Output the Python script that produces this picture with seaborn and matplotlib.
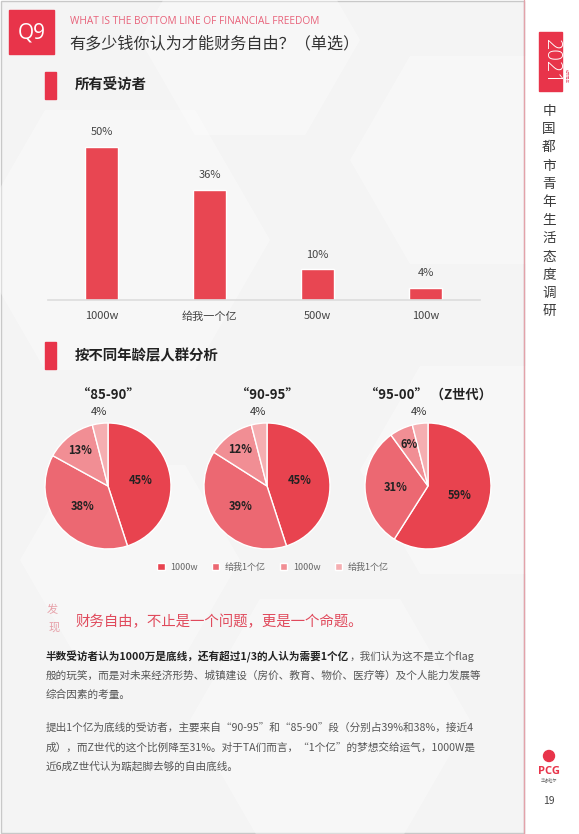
import matplotlib.pyplot as plt
import seaborn as sns
import pandas as pd
import numpy as np
from matplotlib.patches import Rectangle, RegularPolygon, Circle

# data
bar_labels = ['1000w', '给我一个亿', '500w', '100w']
bar_values = [50, 36, 10, 4]

pie_titles = ['“85-90”', '“90-95”', '“95-00” （Z世代）']
pie_85_90 = [45, 38, 13, 4]
pie_90_95 = [45, 39, 12, 4]
pie_95_00 = [59, 31, 6, 4]
legend_labels = ['1000w', '给我1个亿', '1000w', '给我1个亿']

sns.set_theme(style='white')
plt.rcParams['font.family'] = ['Noto Sans CJK SC', 'DejaVu Sans']

W, H = 579, 834
RED = '#E8344A'
BAR = '#E84652'
PIE_COLORS = ['#E8434F', '#EC6872', '#F18E94', '#F5AEB1']


def fig_rect(x0, y0, x1, y1):
    return [x0 / W, 1 - y1 / H, (x1 - x0) / W, (y1 - y0) / H]


fig = plt.figure(figsize=(W / 100, H / 100), dpi=100)
fig.patch.set_facecolor('white')

# page background, pixel coordinates
bg = fig.add_axes([0, 0, 1, 1])
bg.set_xlim(0, W)
bg.set_ylim(H, 0)
bg.axis('off')
bg.add_patch(Rectangle((1, 1), 523, 832, facecolor='#F4F4F4', edgecolor='#C8C8C8', lw=1))
for cx, cy, r in [(120, 240, 150), (470, 160, 120), (480, 470, 120), (130, 560, 110), (330, 720, 140), (250, 40, 110)]:
    bg.add_patch(RegularPolygon((cx, cy), 6, radius=r, orientation=np.pi / 6,
                                facecolor='white', alpha=0.35, edgecolor='none'))
bg.plot([524, 524], [0, H], color='#E3A2AA', lw=1)

# header
bg.add_patch(Rectangle((9, 10), 45, 44, color=RED))
bg.text(31.5, 33, 'Q9', color='white', fontsize=15, ha='center', va='center', family='Open Sans')
bg.text(70, 21, 'WHAT IS THE BOTTOM LINE OF FINANCIAL FREEDOM', color='#E8627A', fontsize=7.3,
        ha='left', va='center', family='Open Sans')
bg.text(69, 44, '有多少钱你认为才能财务自由？（单选）', color='#333333', fontsize=11.6, ha='left', va='center')

# sidebar
bg.add_patch(Rectangle((539, 32), 23, 59, color=RED))
bg.text(550.5, 61.5, '2021', color='white', fontsize=14.5, rotation=-90, ha='center', va='center',
        family='Open Sans', fontweight='light')
bg.text(566, 76, '城市青年', color='#E8627A', fontsize=2.5, rotation=-90, ha='center', va='center')
for i, ch in enumerate('中国都市青年生活态度调研'):
    bg.text(549, 111 + i * 18.2, ch, color='#3A3A3A', fontsize=9.8, ha='center', va='center')
bg.add_patch(Circle((549, 756), 5.5, color=RED))
bg.text(549, 771, 'PCG', color=RED, fontsize=8, fontweight='bold', ha='center', va='center', family='Open Sans')
bg.text(549, 780, '华睿粒尔', color='#666666', fontsize=3, ha='center', va='center')
bg.text(549, 801, '19', color='#444444', fontsize=7.5, ha='center', va='center')

# section headers
for y0, label in [(72, '所有受访者'), (342, '按不同年龄层人群分析')]:
    bg.add_patch(Rectangle((45, y0), 11, 27, color=RED))
    bg.text(75, y0 + 14, label, color='#222222', fontsize=10.4, fontweight='bold', ha='left', va='center')

# bar chart
axb = fig.add_axes(fig_rect(47.5, 110, 479.5, 300))
axb.patch.set_alpha(0)
df = pd.DataFrame({'option': bar_labels, 'share': bar_values})
sns.barplot(data=df, x='option', y='share', color=BAR, saturation=1, width=0.31, ax=axb)
axb.set_xlim(-0.5, 3.5)
axb.set_ylim(0, 62)
axb.bar_label(axb.containers[0], fmt='%d%%', padding=7, fontsize=8, color='#444444')
axb.set_xlabel('')
axb.set_ylabel('')
axb.set_yticks([])
axb.tick_params(axis='x', length=0, pad=8, labelsize=8, labelcolor='#444444')
for s in ['left', 'right', 'top']:
    axb.spines[s].set_visible(False)
axb.spines['bottom'].set_color('#DDDDDD')
axb.spines['bottom'].set_linewidth(1.2)

# pies
pie_data = [pie_85_90, pie_90_95, pie_95_00]
centers = [108, 267, 428]
cy, rad, lim = 486, 63, 1.35
label_dist = [0.52, 0.52, 0.72, 1.18]
handles = None
for cx, vals, title in zip(centers, pie_data, pie_titles):
    half = rad * lim
    axp = fig.add_axes(fig_rect(cx - half, cy - half, cx + half, cy + half))
    axp.patch.set_alpha(0)
    wedges, _ = axp.pie(vals, colors=PIE_COLORS, startangle=90, counterclock=False,
                        wedgeprops=dict(edgecolor='white', linewidth=1))
    if handles is None:
        handles = wedges
    for w, v, d in zip(wedges, vals, label_dist):
        ang = np.deg2rad((w.theta1 + w.theta2) / 2)
        inner = d < 1
        axp.text(d * np.cos(ang), d * np.sin(ang), f'{v}%', ha='center', va='center',
                 fontsize=8, fontweight='bold' if inner else 'normal',
                 color='#222222' if inner else '#333333')
    axp.text(0, 1.44, title, ha='center', va='center', fontsize=9.5, fontweight='bold', color='#222222')
    axp.set_xlim(-lim, lim)
    axp.set_ylim(-lim, lim)
    axp.set_aspect('equal')
    axp.axis('off')

fig.legend(handles, legend_labels, loc='center', bbox_to_anchor=(273 / W, 1 - 567 / H), ncol=4,
           frameon=False, fontsize=6.5, handlelength=0.8, handleheight=0.8, handletextpad=0.6,
           columnspacing=1.6, labelcolor='#666666')

# findings text
bg.text(52, 610, '发', color='#E7A0A8', fontsize=8, style='italic', ha='center', va='center')
bg.text(54, 628, '现', color='#E7A0A8', fontsize=8, style='italic', ha='center', va='center')
bg.text(75, 622, '财务自由，不止是一个问题，更是一个命题。', color='#E04A5C', fontsize=10.4,
        ha='left', va='center')

BODY = 7.65
t1 = bg.text(46, 657, '半数受访者认为1000万是底线，还有超过1/3的人认为需要1个亿', color='#222222',
             fontsize=BODY, fontweight='bold', ha='left', va='center')
bg.annotate('，我们认为这不是立个flag', xy=(1, 0.5), xycoords=t1, ha='left', va='center',
            fontsize=BODY, color='#555555')
body_lines = [
    (676, '般的玩笑，而是对未来经济形势、城镇建设（房价、教育、物价、医疗等）及个人能力发展等'),
    (695, '综合因素的考量。'),
    (728, '提出1个亿为底线的受访者，主要来自“90-95”和“85-90”段（分别占39%和38%，接近4'),
    (747, '成），而Z世代的这个比例降至31%。对于TA们而言，“1个亿”的梦想交给运气，1000W是'),
    (766, '近6成Z世代认为踮起脚去够的自由底线。'),
]
for y, line in body_lines:
    bg.text(46, y, line, color='#555555', fontsize=BODY, ha='left', va='center')

fig.savefig('out.png', dpi=100)
